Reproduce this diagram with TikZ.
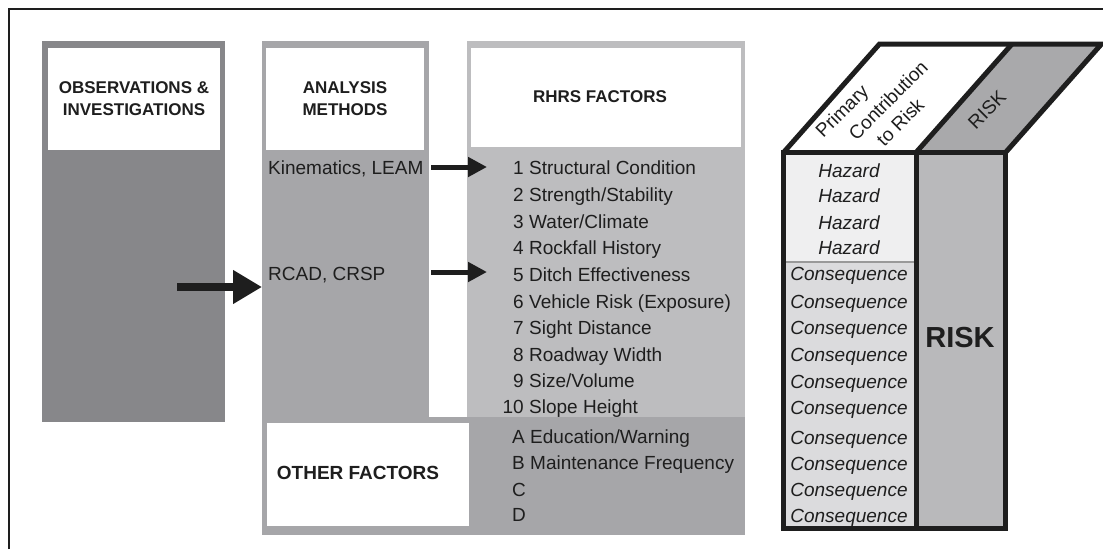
\documentclass[tikz,border=0pt]{standalone}
\usepackage{fontspec}
\setmainfont{Liberation Sans}
\usetikzlibrary{arrows.meta}
\definecolor{cA}{HTML}{87878A}
\definecolor{cB}{HTML}{A6A6A9}
\definecolor{cC}{HTML}{BDBDBF}
\definecolor{hz}{HTML}{EFEFF0}
\definecolor{cq}{HTML}{DBDBDD}
\definecolor{rk}{HTML}{B9B9BB}
\definecolor{rkt}{HTML}{A9A9AB}
\definecolor{txt}{HTML}{1E1E1E}
\tikzset{
  box/.style={draw=none, inner sep=0pt, outer sep=0pt, anchor=north west},
  hdr/.style={font=\fontsize{17}{22}\selectfont\bfseries, align=center, text=txt, inner sep=0pt},
  item/.style={font=\fontsize{19}{22}\selectfont, text=txt, inner sep=0pt, anchor=base west},
  num/.style={font=\fontsize{19}{22}\selectfont, text=txt, inner sep=0pt, anchor=base east},
  ital/.style={font=\fontsize{19}{22}\selectfont\itshape, text=txt, inner sep=0pt, anchor=base},
  rot/.style={font=\fontsize{19}{22}\selectfont, text=txt, inner sep=0pt, rotate=45},
  bigarrow/.style={draw=txt, line width=8pt, -{Triangle[length=29pt,width=32pt]}},
  smallarrow/.style={draw=txt, line width=5pt, -{Triangle[length=19pt,width=19pt]}},
  heavy/.style={draw=txt, line width=5pt, line join=miter}
}
\begin{document}
\begin{tikzpicture}[x=1pt,y=-1pt]
\useasboundingbox (0,0) rectangle (1103,549);
\fill[white] (0,0) rectangle (1103,549);
% frame
\draw[line width=2pt, txt] (9,549) -- (9,9) -- (1103,9);

% column 1
\node[box, fill=cA, minimum width=183pt, minimum height=381pt] (col1) at (42,41) {};
\node[box, fill=white, minimum width=172pt, minimum height=102pt] (h1) at (48,48) {};
\node[hdr] (t1) at (h1.center) [yshift=-0pt] {OBSERVATIONS \&\\INVESTIGATIONS};

% column 2
\node[box, fill=cB, minimum width=167pt, minimum height=381pt] (col2) at (262,41) {};
\node[box, fill=white, minimum width=158pt, minimum height=102pt] (h2) at (266,48) {};
\node[hdr] (t2) at (h2.center) {ANALYSIS\\METHODS};

% column 3
\node[box, fill=cC, minimum width=278pt, minimum height=376pt] (col3) at (467,41) {};
\node[box, fill=white, minimum width=270pt, minimum height=99pt] (h3) at (471,48) {};
\node[hdr] (t3) at (600,97) {RHRS FACTORS};

% bottom block
\node[box, fill=cB, minimum width=483pt, minimum height=118pt] (bot) at (262,417) {};
\node[box, fill=white, minimum width=202pt, minimum height=103pt] (oth) at (267,423) {};
\node[hdr, font=\fontsize{19}{22}\selectfont\bfseries] (othT) at (358,473) {OTHER FACTORS};

% analysis methods
\node[item] (kin) at (268,174) {Kinematics, LEAM};
\node[item] (rcad) at (268,280) {RCAD, CRSP};

% RHRS list
\foreach \n/\t/\y [count=\i] in {1/Structural Condition/174, 2/Strength\slash Stability/201, 3/Water\slash Climate/228, 4/Rockfall History/254, 5/Ditch Effectiveness/281, 6/Vehicle Risk (Exposure)/308, 7/Sight Distance/334, 8/Roadway Width/361, 9/Size\slash Volume/387, 10/Slope Height/413}{
  \node[num] (n\i) at (524,\y) {\n};
  \node[item] (f\i) at (529,\y) {\t};
}
\node[item] (oA) at (512,443) {A};
\node[item] (oAt) at (530,443) {Education\slash Warning};
\node[item] (oB) at (512,469) {B};
\node[item] (oBt) at (530,469) {Maintenance Frequency};
\node[item] (oC) at (512,496) {C};
\node[item] (oD) at (512,521) {D};

% arrows
\coordinate (a1s) at (177,287);
\draw[bigarrow] (a1s) -- (a1s -| col2.west);
\coordinate (k1s) at (431,167);
\coordinate (k1e) at (487,167);
\draw[smallarrow] (k1s) -- (k1e);
\coordinate (r1s) at (431,272);
\coordinate (r1e) at (487,272);
\draw[smallarrow] (r1s) -- (r1e);

% risk box
\node[box, fill=hz, minimum width=132.5pt, minimum height=109.5pt] (hazc) at (783.5,152.5) {};
\node[box, fill=cq, minimum width=132.5pt, minimum height=266.5pt] (conc) at (783.5,262) {};
\node[box, fill=rk, minimum width=89.5pt, minimum height=376pt] (riskc) at (916,152.5) {};
\fill[white] (783.5,152.5) -- (879.5,44) -- (1012,44) -- (916,152.5) -- cycle;
\fill[rkt] (916,152.5) -- (1012,44) -- (1101.5,44) -- (1005.5,152.5) -- cycle;
\draw[line width=1.5pt, draw=black!40] (hazc.south west) -- (hazc.south east);
\draw[heavy] (783.5,152.5) rectangle (1005.5,528.5);
\draw[heavy] (916,152.5) -- (916,528.5);
\draw[heavy] (783.5,152.5) -- (879.5,44) -- (1101.5,44) -- (1005.5,152.5);
\draw[heavy] (916,152.5) -- (1012,44);

\node[rot] (pr1) at (843,112) {Primary};
\node[rot] (pr2) at (888,100) {Contribution};
\node[rot] (pr3) at (900,122) {to Risk};
\node[rot] (rtop) at (987,110) {RISK};

\foreach \y [count=\i] in {177,202,229,254}{
  \node[ital] (hz\i) at (849,\y) {Hazard};
}
\foreach \y [count=\i] in {280,308,334,361,388,414,444,470,496,522}{
  \node[ital] (cq\i) at (849,\y) {Consequence};
}
\node[font=\fontsize{29}{30}\selectfont\bfseries, text=txt, inner sep=0pt] (riskT) at (960,338) {RISK};
\end{tikzpicture}
\end{document}
